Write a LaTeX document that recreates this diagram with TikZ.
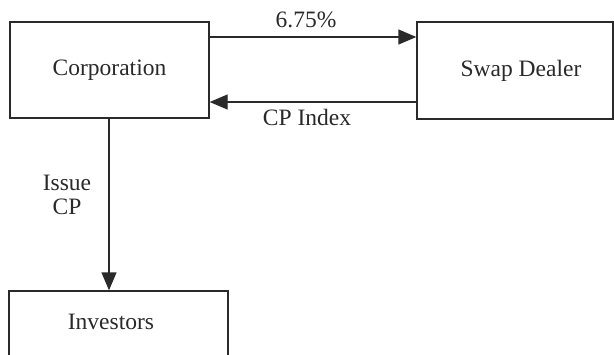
\documentclass[tikz,border=0pt]{standalone}
\usepackage{fontspec}
\setmainfont{Liberation Serif}
\usetikzlibrary{arrows.meta}
\definecolor{ink}{HTML}{2A2A2A}
\begin{document}
\begin{tikzpicture}[x=1pt,y=-1pt,
  every node/.style={text=ink,font=\fontsize{23.5}{28}\selectfont},
  party/.style={draw=ink,line width=1.4pt,rectangle,inner sep=0pt},
  flow/.style={draw=ink,line width=1.4pt,-{Triangle[length=18pt,width=15pt]}},
  tag/.style={inner sep=1pt}]
\useasboundingbox (0,0) rectangle (614,354);
\clip (0,0) rectangle (614,354);
\fill[white] (0,0) rectangle (614,354);

% the three parties
\node[party,minimum width=199pt,minimum height=96pt] (corp) at (109.5,70) {Corporation};
\node[party,minimum width=196pt,minimum height=97pt,
      label={[xshift=6pt]center:Swap Dealer}] (swap) at (515,70.5) {};
\node[party,minimum width=219pt,minimum height=96pt,
      label={[xshift=-7.5pt,yshift=17pt]center:Investors}] (inv) at (118.5,339) {};

% swap payments
\coordinate (fixA) at (corp.east |- 0,37);
\coordinate (fixB) at (swap.west |- 0,37);
\coordinate (fltA) at (swap.west |- 0,102);
\coordinate (fltB) at (corp.east |- 0,102);
\draw[flow] (fixA) -- (fixB);
\draw[flow] (fltA) -- (fltB);
\node[tag] (fixlbl) at (306,20) {6.75\%};
\node[tag] (fltlbl) at (307,117) {CP Index};

% commercial paper issue
\coordinate (cpA) at (109,0 |- corp.south);
\coordinate (cpB) at (109,0 |- inv.north);
\draw[flow] (cpA) -- (cpB);
\node[tag,align=center,font=\fontsize{23.5}{24}\selectfont] (cplbl) at (67,195) {Issue\\CP};
\end{tikzpicture}
\end{document}
